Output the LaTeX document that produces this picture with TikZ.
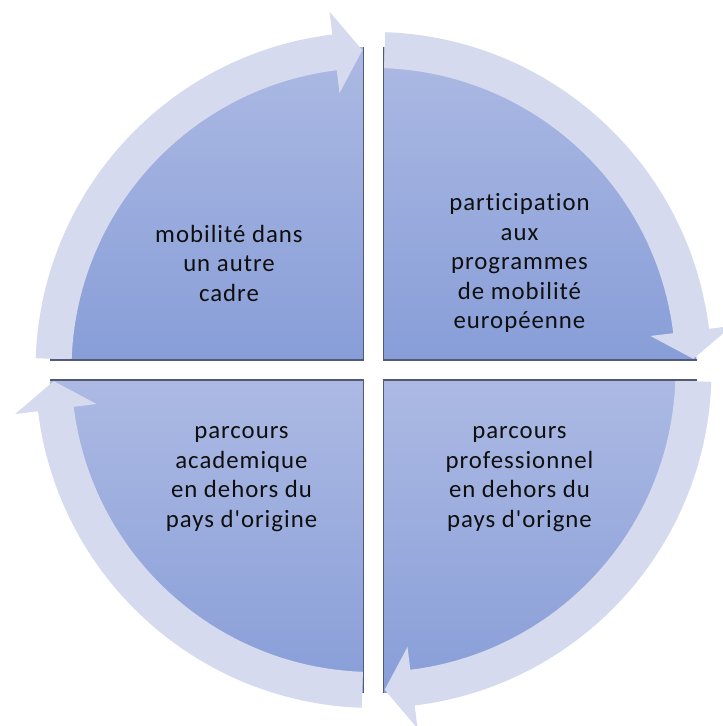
\documentclass[tikz,border=0pt]{standalone}
\usepackage{fontspec}
\setmainfont{Carlito}
\newfontfamily\lblfont[LetterSpace=4,Ligatures={NoCommon}]{Carlito}
\definecolor{secTop}{RGB}{172,185,227}
\definecolor{secBot}{RGB}{136,158,216}
\definecolor{bandFill}{RGB}{213,218,238}
\definecolor{edgeLine}{RGB}{82,90,120}
\definecolor{txtCol}{RGB}{15,15,15}
\begin{document}
\begin{tikzpicture}[x=1pt,y=1pt,
  sector/.style={top color=secTop,bottom color=secBot,draw=none},
  band/.style={fill=bandFill,draw=none},
  edge/.style={draw=edgeLine,line width=1.4pt},
  lbl/.style={font=\lblfont\fontsize{24.8}{29.5}\selectfont,text=txtCol,align=center,inner sep=0pt}]
\useasboundingbox (-373.5,-356) rectangle (349.5,370);
% sectors (corner offsets 10, radius 313)
\shade[sector] (-10,10) -- (-323,10) arc[start angle=180,end angle=90,radius=313] -- cycle;
\shade[sector] (10,10) -- (10,323) arc[start angle=90,end angle=0,radius=313] -- cycle;
\shade[sector] (10,-10) -- (323,-10) arc[start angle=0,end angle=-90,radius=313] -- cycle;
\shade[sector] (-10,-10) -- (-10,-323) arc[start angle=-90,end angle=-180,radius=313] -- cycle;
% circular arrows
\foreach \A in {180,90,0,-90}{
  \pgfmathsetmacro\tail{\A-2}
  \pgfmathsetmacro\base{\A-83}
  \pgfmathsetmacro\tip{\A-88}
  \fill[band] (\tail:338) arc[start angle=\tail,end angle=\base,radius=338]
    -- (\base:361) -- (\tip:320) -- (\base:279) -- (\base:302)
    arc[start angle=\base,end angle=\tail,radius=302] -- cycle;
}
% sector edge lines
\coordinate (tl) at (-10,10);
\coordinate (tr) at (10,10);
\coordinate (br) at (10,-10);
\coordinate (bl) at (-10,-10);
\draw[edge] (-10,323) -- (tl) -- (-323,10);
\draw[edge] (10,323) -- (tr) -- (323,10);
\draw[edge] (323,-10) -- (br) -- (10,-323);
\draw[edge] (-10,-323) -- (bl) -- (-323,-10);
% labels
\node[lbl] (t1) at (-144.5,107) {mobilité dans\\un autre\\cadre};
\node[lbl] (t2) at (146,107) {participation\\aux\\programmes\\de mobilité\\européenne};
\node[lbl] (t3) at (-132,-109) {parcours\\academique\\en dehors du\\pays d'origine};
\node[lbl] (t4) at (146,-109) {parcours\\professionnel\\en dehors du\\pays d'origne};
\end{tikzpicture}
\end{document}
